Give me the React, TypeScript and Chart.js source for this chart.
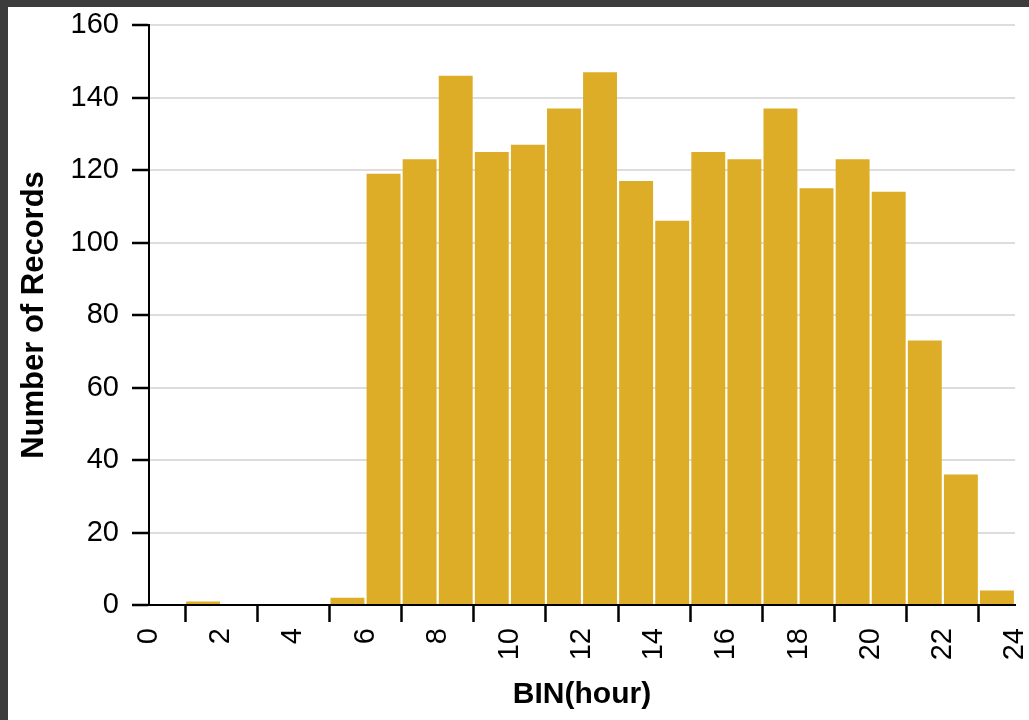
import React, { useEffect, useRef } from "react";
import { Chart, registerables } from "chart.js";

Chart.register(...registerables);

// Bin start hours (each bin is one hour wide)
const binStarts = [0, 1, 2, 3, 4, 5, 6, 7, 8, 9, 10, 11, 12, 13, 14, 15, 16, 17, 18, 19, 20, 21, 22, 23];
// Number of records in each bin
const recordCounts = [0, 1, 0, 0, 0, 2, 119, 123, 146, 125, 127, 137, 147, 117, 106, 125, 123, 137, 115, 123, 114, 73, 36, 4];

const xTitle = "BIN(hour)";
const yTitle = "Number of Records";
const barColor = "#ddad27";

const zeroPad = (scale: any) => {
  scale.paddingTop = 0;
  scale.paddingBottom = 0;
  scale.paddingLeft = 0;
  scale.paddingRight = 0;
};

export default function App() {
  const canvasRef = useRef<HTMLCanvasElement | null>(null);

  useEffect(() => {
    const canvas = canvasRef.current;
    if (!canvas) return;
    const data = binStarts.map((b, i) => ({ x: b + 0.5, y: recordCounts[i] }));
    const chart = new Chart(canvas, {
      type: "bar",
      data: {
        datasets: [
          {
            data: data as any,
            backgroundColor: barColor,
            borderWidth: 0,
            barPercentage: 0.94,
            categoryPercentage: 1,
          },
        ],
      },
      options: {
        animation: false,
        responsive: false,
        maintainAspectRatio: false,
        layout: { padding: { top: 18, right: 14, left: 0, bottom: 0 } },
        plugins: {
          legend: { display: false },
          tooltip: { enabled: false },
        },
        scales: {
          x: {
            type: "linear",
            offset: false,
            min: 0,
            max: 24,
            afterFit: (scale: any) => {
              scale.height = 115;
              zeroPad(scale);
            },
            ticks: {
              stepSize: 2,
              minRotation: 90,
              maxRotation: 90,
              padding: 6,
              color: "#000",
              font: { family: "'Liberation Sans', Arial, sans-serif", size: 29 },
            },
            grid: {
              drawOnChartArea: false,
              drawTicks: true,
              tickLength: 17,
              tickColor: "#000",
              tickWidth: 2.5,
            },
            border: { display: true, color: "#000", width: 2 },
            title: {
              display: true,
              text: xTitle,
              color: "#000",
              padding: { top: 0, bottom: 7 },
              font: { family: "'Liberation Sans', Arial, sans-serif", size: 30, weight: "bold" },
            },
          },
          y: {
            min: 0,
            max: 160,
            afterFit: (scale: any) => {
              scale.width = 141;
              zeroPad(scale);
            },
            ticks: {
              stepSize: 20,
              padding: 13,
              color: "#000",
              font: { family: "'Liberation Sans', Arial, sans-serif", size: 29 },
            },
            grid: {
              color: "#dddddd",
              lineWidth: 2,
              drawTicks: true,
              tickLength: 17,
              tickColor: "#000",
              tickWidth: 2.5,
            },
            border: { display: true, color: "#000", width: 2 },
            title: {
              display: true,
              text: yTitle,
              color: "#000",
              padding: { top: 8, bottom: 0 },
              font: { family: "'Liberation Sans', Arial, sans-serif", size: 31, weight: "bold" },
            },
          },
        },
      },
    });
    return () => chart.destroy();
  }, []);

  return (
    <div style={{ position: "fixed", left: 0, top: 0, width: 1029, height: 720, background: "#3c3c3c" }}>
      <div style={{ position: "absolute", left: 8, top: 7, width: 1021, height: 713, background: "#fff" }}>
        <canvas ref={canvasRef} width={1021} height={713} style={{ display: "block" }} />
      </div>
    </div>
  );
}
